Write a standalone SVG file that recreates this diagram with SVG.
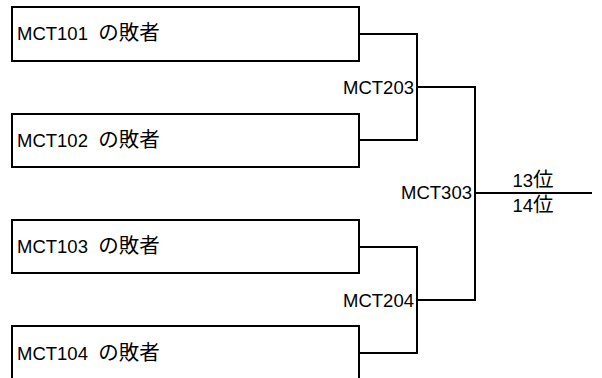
<svg xmlns="http://www.w3.org/2000/svg" width="602" height="378" viewBox="0 0 602 378">
<style>
.box{fill:#fff;stroke:#000;stroke-width:2}
.ln{fill:none;stroke:#000;stroke-width:2}
text{font-family:"Liberation Sans","Noto Sans CJK JP",sans-serif;font-size:18.5px;fill:#000}
.j{font-size:20.5px}
.r{text-anchor:end}
.c{text-anchor:middle}
</style>
<rect width="602" height="378" fill="#fff"/>
<g id="n101"><rect class="box" x="12" y="7" width="347" height="54"/><text x="17" y="40" xml:space="preserve">MCT101  <tspan class="j">の敗者</tspan></text></g>
<g id="n102"><rect class="box" x="12" y="114" width="347" height="53"/><text x="17" y="147" xml:space="preserve">MCT102  <tspan class="j">の敗者</tspan></text></g>
<g id="n103"><rect class="box" x="12" y="220" width="347" height="53"/><text x="17" y="253" xml:space="preserve">MCT103  <tspan class="j">の敗者</tspan></text></g>
<g id="n104"><rect class="box" x="12" y="326" width="347" height="60"/><text x="17" y="360" xml:space="preserve">MCT104  <tspan class="j">の敗者</tspan></text></g>
<g id="connectors">
<path class="ln" d="M359 34H417V140H359"/>
<path class="ln" d="M359 247H417V353H359"/>
<path class="ln" d="M417 87H475V300H417"/>
<path class="ln" d="M475 193H592"/>
</g>
<g id="labels">
<text class="r" x="414" y="94">MCT203</text>
<text class="r" x="414" y="307">MCT204</text>
<text class="r" x="472" y="199">MCT303</text>
<text class="c" x="533" y="187">13<tspan class="j">位</tspan></text>
<text class="c" x="533" y="212">14<tspan class="j">位</tspan></text>
</g>
</svg>
